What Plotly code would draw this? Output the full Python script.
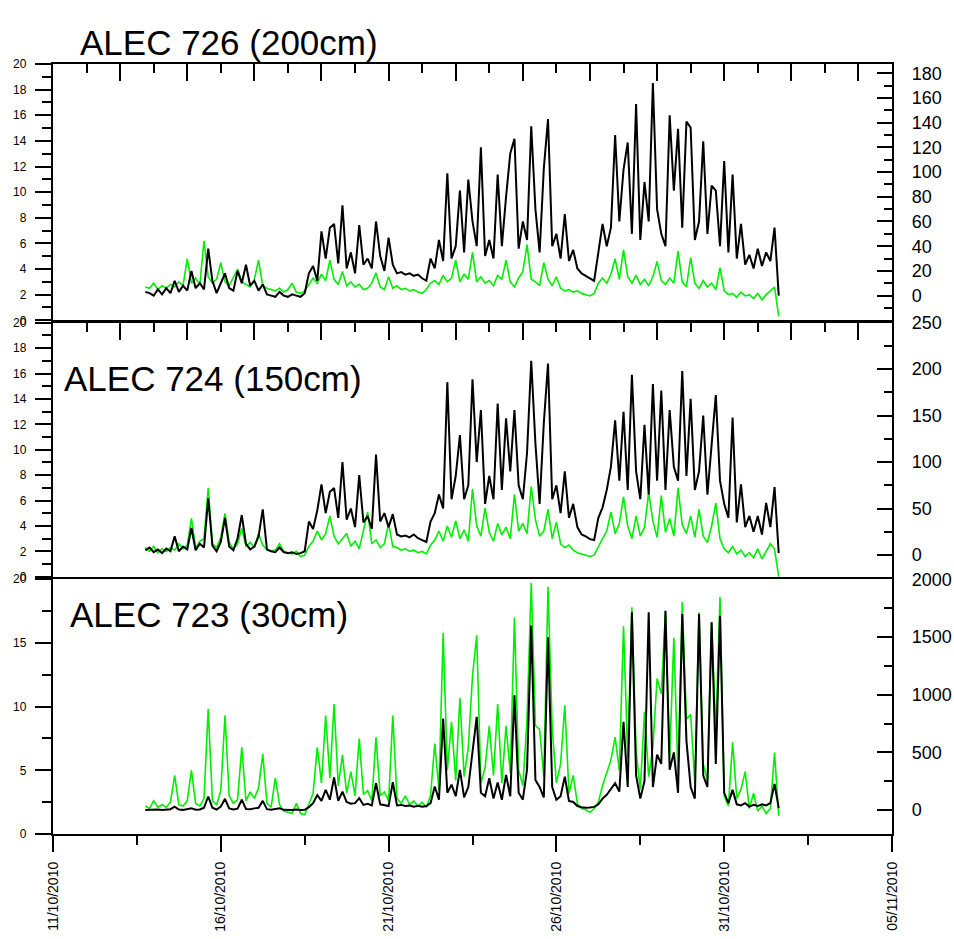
import pandas as pd
import plotly.graph_objects as go

# ---------------- data ----------------
times = pd.date_range("2010-10-13 18:00", periods=152, freq="3h")

titles = ["ALEC 726 (200cm)", "ALEC 724 (150cm)", "ALEC 723 (30cm)"]
x_tick_dates = ["2010-10-11", "2010-10-16", "2010-10-21", "2010-10-26", "2010-10-31", "2010-11-05"]

# ALEC 726 - green (left axis)
g726 = [2.6, 2.5, 2.9, 2.4, 2.7, 2.5, 2.8, 2.6, 3.0, 2.7,
        4.8, 2.9, 3.3, 2.8, 6.2, 3.4, 2.9, 3.2, 4.5, 3.0,
        2.7, 3.4, 4.0, 3.0, 2.8, 2.6, 3.2, 4.7, 2.7, 2.5,
        2.4, 2.3, 2.5, 2.2, 2.4, 2.9, 2.2, 2.1, 2.3, 2.8,
        3.3, 2.9, 3.6, 3.1, 4.7, 3.2, 2.8, 3.8, 2.7, 3.0,
        2.6, 2.8, 2.4, 2.5, 2.9, 3.7, 2.6, 2.4, 3.4, 2.5,
        2.7, 2.4, 2.5, 2.3, 2.4, 2.2, 2.1, 2.4, 2.9, 3.1,
        2.8, 3.5, 3.0, 3.3, 4.7, 3.0, 3.6, 3.2, 5.3, 3.0,
        3.4, 2.9, 3.1, 2.7, 3.5, 3.2, 4.7, 3.0, 2.6, 3.3,
        3.8, 5.9, 3.2, 3.0, 2.7, 4.5, 3.2, 2.7, 3.4, 2.5,
        2.3, 2.4, 2.2, 2.3, 2.1, 2.0, 1.9, 2.1, 2.9, 3.3,
        2.9, 3.6, 4.8, 3.2, 5.5, 3.4, 2.9, 3.5, 2.8, 3.2,
        2.7, 3.4, 4.6, 3.1, 2.8, 3.3, 2.9, 5.4, 3.0, 2.6,
        4.9, 2.9, 2.5, 3.1, 2.6, 2.9, 2.4, 4.1, 2.3, 2.0,
        2.1, 1.8, 2.2, 1.9, 2.0, 1.7, 2.1, 1.6, 2.0, 2.3,
        2.6, 0.3]
# ALEC 726 - black (right axis)
k726 = [3, 2, 0, 5, 1, 6, 2, 12, 3, 8,
        4, 20, 6, 10, 5, 38, 12, 2, 10, 18,
        6, 4, 20, 10, 25, 8, 12, 4, 9, 1,
        0, -1, 3, 0, -1, 1, 0, -1, 2, 18,
        24, 12, 52, 30, 55, 58, 26, 73, 22, 35,
        18, 57, 25, 30, 22, 60, 32, 20, 47, 25,
        18, 19, 17, 18, 16, 17, 14, 12, 30, 22,
        45, 28, 99, 30, 40, 85, 35, 94, 60, 40,
        120, 32, 45, 30, 98, 40, 80, 115, 127, 38,
        60, 45, 137, 70, 35, 103, 143, 40, 50, 30,
        66, 28, 37, 22, 18, 16, 14, 12, 35, 58,
        40, 55, 130, 60, 102, 124, 50, 155, 45, 92,
        60, 172, 70, 50, 40, 146, 85, 135, 55, 141,
        136, 45, 60, 125, 50, 89, 85, 40, 109, 35,
        98, 30, 58, 25, 33, 22, 38, 24, 35, 28,
        55, 0]

# ALEC 724 - green (left axis)
g724 = [2.3, 2.0, 2.4, 1.9, 2.2, 2.0, 2.3, 2.1, 2.6, 2.2,
        2.5, 4.6, 2.3, 2.8, 3.0, 7.0, 2.6, 2.3, 3.1, 5.0,
        2.7, 2.2, 2.6, 3.8, 2.4, 2.7, 2.3, 3.4, 2.5, 2.1,
        2.0, 2.1, 2.6, 2.0, 1.9, 1.8, 2.0, 1.6, 1.7, 2.4,
        2.8, 3.6, 2.9, 3.4, 4.8, 3.2, 2.6, 3.0, 3.4, 2.4,
        2.8, 2.2, 3.6, 5.1, 2.6, 2.9, 2.3, 2.6, 4.2, 2.4,
        2.3, 2.1, 2.2, 2.0, 2.1, 1.9, 2.0, 1.8, 2.5, 2.9,
        3.6, 2.8, 4.0, 3.1, 4.4, 3.0, 3.7, 2.8, 6.9, 4.0,
        3.2, 5.4, 3.5, 2.8, 4.2, 3.3, 3.9, 3.0, 6.5, 3.6,
        4.2, 3.4, 7.1, 4.5, 3.2, 3.6, 5.3, 3.0, 4.3, 2.6,
        2.3, 2.5, 2.1, 1.9, 1.8, 1.7, 1.6, 1.7, 2.4, 3.0,
        3.6, 5.1, 3.4, 4.2, 6.3, 4.0, 3.0, 4.8, 3.2, 3.9,
        6.6, 4.4, 3.1, 6.4, 3.5, 4.6, 3.2, 7.0, 4.1, 3.4,
        4.8, 3.1, 5.3, 3.2, 2.7, 4.0, 5.8, 3.0, 2.2, 1.9,
        2.4, 1.8, 2.1, 1.6, 1.9, 1.5, 2.2, 1.4, 2.0, 2.6,
        2.2, 0.0]
# ALEC 724 - black (right axis)
k724 = [5, 8, 3, 6, 2, 7, 4, 20, 4, 9,
        6, 29, 5, 12, 8, 61, 10, 4, 14, 40,
        9, 5, 18, 43, 12, 6, 9, 20, 49, 6,
        4, 3, 8, 3, 2, 3, 1, 2, 4, 36,
        28, 48, 76, 45, 68, 72, 40, 100, 38, 50,
        30, 86, 35, 42, 28, 108, 36, 45, 30, 44,
        22, 20, 21, 19, 22, 18, 16, 14, 36, 45,
        65, 50, 186, 60, 85, 129, 60, 75, 189, 100,
        156, 55, 85, 60, 163, 70, 147, 90, 156, 75,
        60, 110, 209, 120, 55, 142, 206, 60, 75, 45,
        90, 40, 55, 30, 22, 20, 17, 16, 40, 51,
        70, 95, 145, 80, 154, 70, 194, 90, 60, 140,
        65, 184, 80, 177, 70, 156, 95, 80, 198, 85,
        168, 70, 90, 150, 65, 120, 172, 80, 55, 40,
        148, 35, 76, 30, 42, 25, 42, 22, 56, 30,
        73, 2]

# ALEC 723 - green (left axis)
g723 = [2.2, 2.0, 2.6, 2.1, 2.3, 2.1, 2.5, 4.6, 2.3, 2.2,
        2.6, 5.0, 2.4, 2.2, 2.8, 9.8, 2.6, 2.3, 3.4, 9.3,
        3.0, 2.4, 2.7, 6.8, 2.6, 3.3, 2.8, 3.6, 6.3, 2.4,
        2.1, 4.4, 2.3, 1.8, 1.7, 1.6, 2.4, 1.6, 1.5, 2.3,
        3.2, 6.8, 4.0, 9.3, 4.4, 10.2, 3.8, 6.2, 3.2, 4.9,
        3.0, 7.5, 3.1, 3.4, 2.6, 7.6, 3.0, 3.3, 2.6, 9.3,
        2.8, 2.4, 3.0, 2.3, 2.6, 2.2, 2.5, 2.1, 3.0, 7.1,
        3.5, 15.8, 5.0, 8.8, 4.2, 10.7, 4.5, 6.8, 12.4, 15.6,
        4.0, 5.2, 8.5, 4.6, 10.2, 4.0, 8.5, 4.8, 17.0, 5.0,
        3.8, 9.0, 19.7, 8.5, 8.2, 4.5, 19.4, 8.3, 4.0, 5.5,
        10.1, 3.2, 4.6, 2.4, 2.0, 1.9, 1.7, 2.0, 2.5, 3.8,
        4.8, 5.8, 7.6, 5.0, 16.3, 6.0, 17.8, 6.5, 3.5, 9.6,
        4.5, 6.8, 12.2, 11.0, 17.5, 6.0, 15.4, 4.5, 18.2, 9.0,
        9.4, 4.0, 17.4, 5.5, 4.2, 16.6, 8.0, 18.6, 3.0, 2.2,
        7.2, 2.8, 3.5, 4.9, 2.0, 3.2, 1.8, 2.2, 1.6, 2.0,
        6.4, 1.4]
# ALEC 723 - black (right axis)
k723 = [0, 2, 0, 5, 0, 3, 8, 30, 5, 2,
        6, 15, 3, 5, 20, 118, 20, 5, 30, 98,
        15, 5, 12, 90, 10, 8, 15, 20, 80, 8,
        3, 10, 15, 2, 0, 1, 5, 0, 3, 25,
        60, 130, 80, 175, 90, 282, 80, 160, 70, 55,
        60, 103, 45, 55, 40, 233, 50, 45, 35, 241,
        40, 45, 35, 40, 30, 38, 30, 35, 60, 204,
        90, 793, 150, 220, 120, 348, 110, 200, 520, 807,
        150, 120, 276, 100, 240, 90, 305, 120, 994, 150,
        90, 350, 1598, 260, 200, 110, 1497, 200, 90, 120,
        290, 80, 70, 35, 25, 20, 22, 28, 50, 100,
        132, 180, 233, 160, 765, 200, 1713, 300, 100, 250,
        1713, 200, 480, 400, 1727, 350, 500, 150, 1698, 600,
        200, 100, 1698, 300, 200, 1627, 400, 1684, 150, 60,
        175, 50, 40, 60, 30, 45, 35, 50, 40, 60,
        227, 17]

greens = [g726, g724, g723]
blacks = [k726, k724, k723]

# ---------------- figure ----------------
W, H = 954, 939
FONT = "Liberation Sans, Arial, sans-serif"
GREEN = "#00ee00"
LW = 2.4

def px(yp):
    return 1 - yp / H

x0, x1 = 53 / W, 892 / W
# panel boundaries (pixels from top); shared edges are offset by the line width
# so the two axis lines drawn on a shared edge coincide
panels = [(64, 321.5 - LW / 2), (321.5 + LW / 2, 578 - LW / 2), (578 + LW / 2, 834)]
left_ranges = [[0, 20], [0, 20], [0, 20]]
left_dticks = [2, 2, 5]
right_ranges = [[-20, 187.5], [-23.5, 250], [-207, 2000]]
right_dticks = [20, 50, 500]
right_ticks = [list(range(0, 181, 20)), list(range(0, 251, 50)), list(range(0, 2001, 500))]

xr = ["2010-10-11", "2010-11-05"]
DAY = 86400000

fig = go.Figure()
for i in range(3):
    xa = "x" if i == 0 else f"x{i+1}"
    yl = "y" if i == 0 else f"y{2*i+1}"
    yr = f"y{2*i+2}"
    fig.add_trace(go.Scatter(x=times, y=greens[i], mode="lines",
                             line=dict(color=GREEN, width=1.6),
                             xaxis=xa, yaxis=yl, showlegend=False, hoverinfo="skip"))
    fig.add_trace(go.Scatter(x=times, y=blacks[i], mode="lines",
                             line=dict(color="black", width=2),
                             xaxis=xa, yaxis=yr, showlegend=False, hoverinfo="skip"))

layout = dict(template="none", width=W, height=H, autosize=False,
              margin=dict(l=0, r=0, t=0, b=0, pad=0),
              paper_bgcolor="white", plot_bgcolor="white",
              font=dict(family=FONT, color="black"), showlegend=False)

for i in range(3):
    top, bot = panels[i]
    dom = [px(bot), px(top)]
    xkey = "xaxis" if i == 0 else f"xaxis{i+1}"
    ylkey = "yaxis" if i == 0 else f"yaxis{2*i+1}"
    yrkey = f"yaxis{2*i+2}"
    xname = "x" if i == 0 else f"x{i+1}"
    ylname = "y" if i == 0 else f"y{2*i+1}"

    if i < 2:
        layout[xkey] = dict(domain=[x0, x1], anchor=ylname, range=xr, type="date",
                            automargin=False,
                            side="top", ticks="inside", ticklen=17, tickwidth=LW,
                            tickcolor="black", tick0="2010-10-11", dtick=2 * DAY,
                            minor=dict(ticks="inside", ticklen=9, tickwidth=LW,
                                       tickcolor="black", dtick=DAY, tick0="2010-10-11",
                                       showgrid=False),
                            showticklabels=False, showline=True, linecolor="black",
                            linewidth=LW, mirror=True, showgrid=False, zeroline=False)
    else:
        layout[xkey] = dict(domain=[x0, x1], anchor=ylname, range=xr, type="date",
                            automargin=False,
                            side="bottom", ticks="outside", ticklen=16, tickwidth=LW,
                            tickcolor="black", tickmode="array",
                            tickvals=x_tick_dates,
                            ticktext=[pd.Timestamp(d).strftime("%d/%m/%Y") for d in x_tick_dates],
                            minor=dict(ticks="outside", ticklen=9, tickwidth=LW,
                                       tickcolor="black", dtick=2.5 * DAY, tick0="2010-10-11",
                                       showgrid=False),
                            tickangle=-90, tickfont=dict(size=14, family=FONT),
                            ticklabelstandoff=4,
                            showline=True, linecolor="black", linewidth=LW, mirror=True,
                            showgrid=False, zeroline=False)
        layout["xaxis4"] = dict(domain=[x0, x1], anchor=ylname, overlaying=xname,
                                automargin=False,
                                range=xr, type="date", side="top", ticks="inside",
                                ticklen=15, tickwidth=LW, tickcolor="black",
                                tickmode="array", tickvals=x_tick_dates,
                                showticklabels=False, showline=False,
                                showgrid=False, zeroline=False)

    layout[ylkey] = dict(domain=dom, anchor=xname, range=left_ranges[i],
                         automargin=False,
                         ticks="outside", ticklen=16, tickwidth=LW, tickcolor="black",
                         tick0=0, dtick=left_dticks[i],
                         minor=dict(ticks="outside", ticklen=9, tickwidth=LW,
                                    tickcolor="black", dtick=left_dticks[i] / 2,
                                    showgrid=False),
                         tickfont=dict(size=12, family=FONT), ticklabelstandoff=6,
                         showline=True, linecolor="black", linewidth=LW,
                         showgrid=False, zeroline=False)
    layout[yrkey] = dict(domain=dom, anchor=xname, overlaying=ylname, side="right",
                         automargin=False,
                         range=right_ranges[i], ticks="inside", ticklen=15,
                         tickwidth=LW, tickcolor="black", tickmode="array",
                         tickvals=right_ticks[i],
                         minor=dict(ticks="inside", ticklen=8, tickwidth=LW,
                                    tickcolor="black", dtick=right_dticks[i] / 2, tick0=0,
                                    showgrid=False),
                         tickfont=dict(size=18, family=FONT), ticklabelstandoff=14,
                         showline=True, linecolor="black", linewidth=LW,
                         showgrid=False, zeroline=False)

title_pos = [(78, 42), (62, 378), (68, 614)]
layout["annotations"] = [
    dict(text=t, x=xp / W, y=px(yp), xref="paper", yref="paper",
         xanchor="left", yanchor="middle", showarrow=False,
         font=dict(size=35, family=FONT, color="black"))
    for t, (xp, yp) in zip(titles, title_pos)
]

fig.update_layout(**layout)
fig.write_html("out.html")
